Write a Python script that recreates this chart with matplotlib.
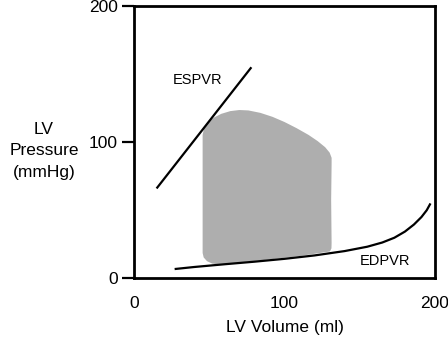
import matplotlib.pyplot as plt

plt.rcParams['font.family'] = ['Liberation Sans', 'DejaVu Sans']

# ESPVR line (volume ml, pressure mmHg)
espvr_v = [15, 78]
espvr_p = [66, 155]

# EDPVR curve
edpvr_v = [27, 40, 60, 80, 100, 120, 140, 155, 165, 173, 180, 186, 191, 194.5, 197]
edpvr_p = [6.8, 8.3, 10.3, 12.2, 14.3, 16.8, 20.0, 23.2, 26.3, 29.8, 34.3, 39.5, 45.0, 50.0, 55.0]

# pressure-volume loop outline
loop_v = [45.6, 45.6, 46.3, 48.5, 52.0, 57.0, 83.7, 110.3, 130.2, 131.2, 131.3,
          131.0, 131.3, 131.3, 130.0, 127.0, 122.0, 116.0, 108.0, 100.0, 92.0,
          84.0, 76.0, 70.0, 64.0, 58.0, 53.0, 49.0, 46.5]
loop_p = [105.3, 18.6, 15.3, 12.6, 10.8, 10.1, 13.1, 16.4, 19.7, 22.0, 26.0,
          57.5, 84.0, 88.5, 92.3, 96.3, 100.8, 105.3, 110.3, 114.8, 118.6,
          121.5, 123.3, 123.6, 122.8, 120.8, 118.0, 114.5, 110.0]

fig = plt.figure(figsize=(4.48, 3.44), dpi=100)
ax = fig.add_axes([134 / 448, 1 - 278.3 / 344, 301 / 448, 272.3 / 344])

ax.fill(loop_v, loop_p, color='#aeaeae', lw=0)
ax.plot(espvr_v, espvr_p, color='black', lw=1.6, solid_capstyle='butt')
ax.plot(edpvr_v, edpvr_p, color='black', lw=1.6, solid_capstyle='butt')

ax.text(42, 146, 'ESPVR', fontsize=10.5, ha='center', va='center')
ax.text(167, 12.5, 'EDPVR', fontsize=10.5, ha='center', va='center')

ax.set_xlim(0, 200)
ax.set_ylim(0, 200)
ax.set_xticks([0, 100, 200])
ax.set_yticks([0, 100, 200])
ax.set_xticks([0], minor=True)
ax.tick_params(axis='x', which='major', length=0, pad=13, labelsize=12.5)
ax.tick_params(axis='x', which='minor', length=8.5, width=1.6)
ax.tick_params(axis='y', which='major', length=8.5, width=1.6, pad=3, labelsize=12.5)
for s in ax.spines.values():
    s.set_linewidth(2)

ax.set_xlabel('LV Volume (ml)', fontsize=12.5, labelpad=6)
ax.set_ylabel('LV\nPressure\n(mmHg)', fontsize=12.5, rotation=0,
              ha='center', va='center', linespacing=1.55)
ax.yaxis.set_label_coords(-0.299, 0.4675)

fig.savefig('out.png', dpi=100)
